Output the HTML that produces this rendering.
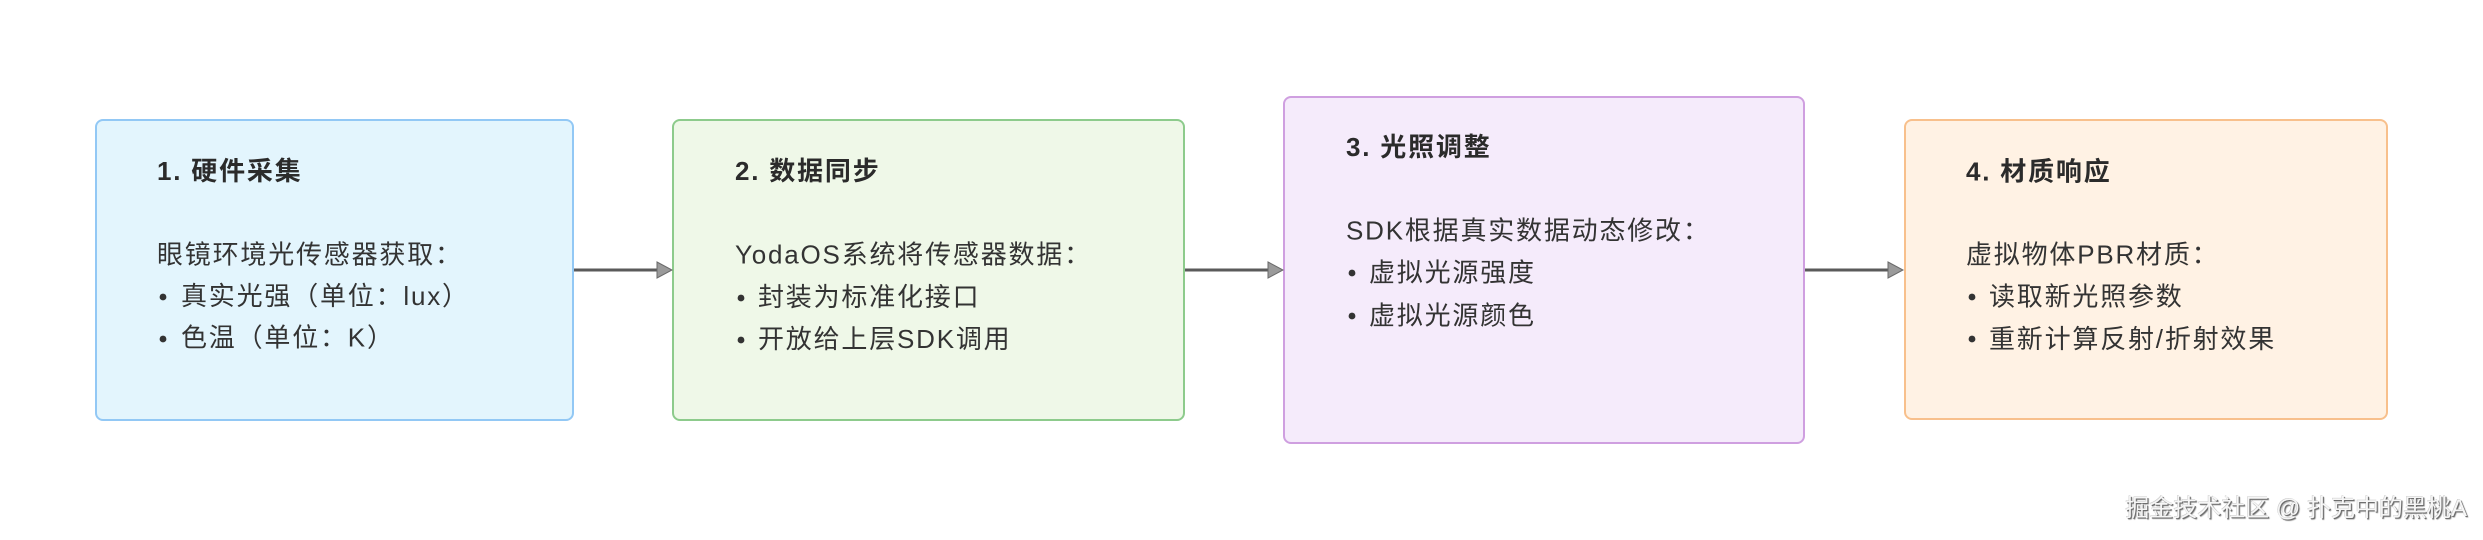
<!DOCTYPE html>
<html>
<head>
<meta charset="utf-8">
<style>
  html, body { margin:0; padding:0; background:#ffffff; }
  body { width:2483px; height:540px; overflow:hidden; position:relative; }
  svg { position:absolute; left:0; top:0; }
  .t { font-family:"Liberation Sans","Noto Sans CJK SC",sans-serif; font-size:26px; letter-spacing:1.8px; fill:#333333; }
  .b { font-weight:bold; fill:#2b2b2b; }
  .wm { position:absolute; right:16px; top:493px; font-family:"Liberation Sans","Noto Sans CJK SC",sans-serif; font-size:24px; letter-spacing:0px; color:#f6f6f6; white-space:nowrap; text-align:right;
        text-shadow: 1px 1px 0 #6e6e6e, 1.5px 1.5px 1px #999, -0.5px -0.5px 0 #c8c8c8; line-height:32px; }
</style>
</head>
<body>
<svg width="2483" height="540" viewBox="0 0 2483 540" xmlns="http://www.w3.org/2000/svg">
  <!-- Boxes -->
  <rect x="96" y="120" width="477" height="300" rx="7" ry="7" fill="#e3f5fd" stroke="#92c8f5" stroke-width="2"/>
  <rect x="673" y="120" width="511" height="300" rx="7" ry="7" fill="#eff8e8" stroke="#8dcb8c" stroke-width="2"/>
  <rect x="1284" y="97" width="520" height="346" rx="7" ry="7" fill="#f5ebfb" stroke="#cf9fe0" stroke-width="2"/>
  <rect x="1905" y="120" width="482" height="299" rx="7" ry="7" fill="#fff2e4" stroke="#f8c08c" stroke-width="2"/>

  <!-- Connectors -->
  <g stroke="#5a5a5a" stroke-width="3" fill="none">
    <line x1="574" y1="270" x2="660" y2="270"/>
    <line x1="1185" y1="270" x2="1271" y2="270"/>
    <line x1="1805" y1="270" x2="1892" y2="270"/>
  </g>
  <g fill="#9a9a9a" stroke="#6a6a6a" stroke-width="1">
    <polygon points="657,262 672,270 657,278"/>
    <polygon points="1268,262 1283,270 1268,278"/>
    <polygon points="1888,262 1903,270 1888,278"/>
  </g>

  <!-- Box 1 text -->
  <text class="t b" x="157" y="180">1. 硬件采集</text>
  <text class="t" x="157" y="263.5">眼镜环境光传感器获取：</text>
  <circle cx="163" cy="297" r="3.4" fill="#333"/>
  <text class="t" x="181" y="305">真实光强（单位：lux）</text>
  <circle cx="163" cy="339" r="3.4" fill="#333"/>
  <text class="t" x="181" y="346.5">色温（单位：K）</text>

  <!-- Box 2 text -->
  <text class="t b" x="735" y="180">2. 数据同步</text>
  <text class="t" x="735" y="263.5">YodaOS系统将传感器数据：</text>
  <circle cx="741" cy="298" r="3.4" fill="#333"/>
  <text class="t" x="758" y="306">封装为标准化接口</text>
  <circle cx="741" cy="340" r="3.4" fill="#333"/>
  <text class="t" x="758" y="348">开放给上层SDK调用</text>

  <!-- Box 3 text -->
  <text class="t b" x="1346" y="156">3. 光照调整</text>
  <text class="t" x="1346" y="239.5">SDK根据真实数据动态修改：</text>
  <circle cx="1352" cy="273" r="3.4" fill="#333"/>
  <text class="t" x="1369" y="281.5">虚拟光源强度</text>
  <circle cx="1352" cy="316" r="3.4" fill="#333"/>
  <text class="t" x="1369" y="324.5">虚拟光源颜色</text>

  <!-- Box 4 text -->
  <text class="t b" x="1966" y="180.5">4. 材质响应</text>
  <text class="t" x="1966" y="263.5">虚拟物体PBR材质：</text>
  <circle cx="1972" cy="297" r="3.4" fill="#333"/>
  <text class="t" x="1989" y="305.5">读取新光照参数</text>
  <circle cx="1972" cy="339" r="3.4" fill="#333"/>
  <text class="t" x="1989" y="348">重新计算反射/折射效果</text>
</svg>
<div class="wm">掘金技术社区 @ 扑克中的黑桃A</div>
</body>
</html>
